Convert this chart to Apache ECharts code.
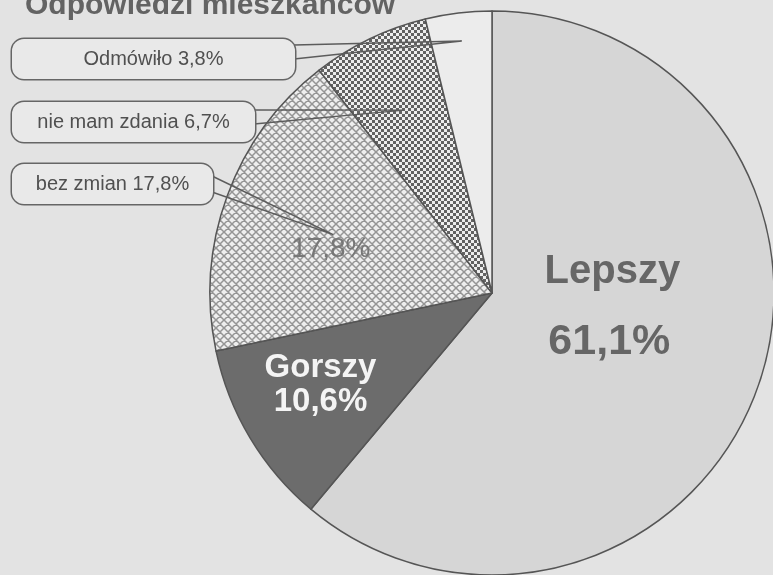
<!DOCTYPE html>
<html><head><meta charset="utf-8">
<script src="https://cdn.jsdelivr.net/npm/echarts@6/dist/echarts.min.js"></script>
<style>html,body{margin:0;padding:0;background:#e3e3e3}#c{width:773px;height:575px}</style>
</head><body><div id="c"></div>
<script>
// ---- data ----
const titleText = 'Odpowiedzi mieszkańców';
const categories = ['Lepszy', 'Gorszy', 'bez zmian', 'nie mam zdania', 'Odmówiło'];
const values = [61.1, 10.6, 17.8, 6.7, 3.8];

// ---- helpers ----
function fmt(v) { return v.toFixed(1).replace('.', ',') + '%'; }
function makeCross() {
  const s = 8, c = document.createElement('canvas'); c.width = c.height = s;
  const g = c.getContext('2d');
  g.fillStyle = '#eeeeee'; g.fillRect(0, 0, s, s);
  g.strokeStyle = '#959595'; g.lineWidth = 1.5; g.beginPath();
  for (let k = -1; k <= 1; k++) {
    g.moveTo(k * s, 0); g.lineTo(k * s + s, s);
    g.moveTo(k * s + s, 0); g.lineTo(k * s, s);
  }
  g.stroke(); return c;
}
function makeChecker() {
  const s = 6, c = document.createElement('canvas'); c.width = c.height = s;
  const g = c.getContext('2d');
  g.fillStyle = '#eeeeee'; g.fillRect(0, 0, s, s);
  g.fillStyle = '#626262'; g.fillRect(0, 0, 3, 3); g.fillRect(3, 3, 3, 3);
  return c;
}

// ---- styles ----
const center = [492, 293], radius = 282;
const fills = ['#d6d6d6', '#6c6c6c', { image: makeCross(), repeat: 'repeat' }, { image: makeChecker(), repeat: 'repeat' }, '#ececec'];
const fontFam = '"Liberation Sans", Arial, sans-serif';
const innerLabels = [
  { show: true, offset: [-18, -35], formatter: p => '{n|' + p.name + '}\n{v|' + fmt(p.value) + '}',
    rich: { n: { fontSize: 40, fontWeight: 'bold', color: '#666', lineHeight: 70, fontFamily: fontFam, padding: [0, 0, 0, 6] },
            v: { fontSize: 43, fontWeight: 'bold', color: '#666', lineHeight: 70, fontFamily: fontFam } } },
  { show: true, offset: [-48, 18], formatter: p => '{n|' + p.name + '}\n{v|' + fmt(p.value) + '}',
    rich: { n: { fontSize: 33, fontWeight: 'bold', color: '#f4f4f4', lineHeight: 34, fontFamily: fontFam },
            v: { fontSize: 33, fontWeight: 'bold', color: '#f4f4f4', lineHeight: 34, fontFamily: fontFam } } },
  { show: true, offset: [-26, 6], formatter: p => fmt(p.value), fontSize: 28, color: '#777', fontFamily: fontFam },
  { show: false }, { show: false }
];
// callout boxes: left x, center y, width, tail top/bottom y offsets, radial fraction of pointer
const callouts = {
  2: { x: 12, y: 184, w: 201, t1: -8, t2: 8, f: 0.60 },
  3: { x: 12, y: 122, w: 243, t1: -12, t2: 2, f: 0.72 },
  4: { x: 12, y: 59, w: 283, t1: -14, t2: 0, f: 0.90 }
};

const chart = echarts.init(document.getElementById('c'), null, { renderer: 'canvas' });

const mainData = categories.map((n, i) => ({
  name: n, value: values[i], itemStyle: { color: fills[i] }, label: innerLabels[i]
}));
const calloutData = categories.map((n, i) => {
  const c = callouts[i];
  return {
    name: n, value: values[i],
    label: c ? { show: true, position: 'outside', width: c.w } : { show: false },
    labelLine: { show: !!c }
  };
});

chart.setOption({
  backgroundColor: '#e3e3e3',
  animation: false,
  title: {
    text: titleText, left: 25, top: -9, padding: 0,
    textStyle: { fontSize: 30, fontWeight: 'bold', color: '#636363', fontFamily: fontFam, lineHeight: 30 }
  },
  series: [
    {
      type: 'pie', center: center, radius: radius, startAngle: 90, clockwise: true,
      silent: true, avoidLabelOverlap: false, emphasis: { disabled: true },
      itemStyle: { borderColor: '#555', borderWidth: 1.5 },
      label: { position: 'inside' }, labelLine: { show: false },
      data: mainData
    },
    {
      type: 'pie', center: center, radius: radius, startAngle: 90, clockwise: true,
      silent: true, avoidLabelOverlap: false, emphasis: { disabled: true }, z: 5,
      itemStyle: { color: 'rgba(0,0,0,0)', borderWidth: 0 },
      label: {
        formatter: p => p.name + ' ' + fmt(p.value),
        fontSize: 20, color: '#505050', fontFamily: fontFam, lineHeight: 22,
        backgroundColor: '#e9e9e9', borderColor: '#666', borderWidth: 1.5, borderRadius: 12,
        padding: [9, 0], align: 'center'
      },
      labelLine: { length: 10, length2: 10, lineStyle: { color: '#5c5c5c', width: 1.4 } },
      labelLayout: function (p) {
        const c = callouts[p.dataIndex];
        if (!c) return {};
        const lay = chart.getModel().getSeriesByIndex(1).getData().getItemLayout(p.dataIndex);
        const mid = (lay.startAngle + lay.endAngle) / 2;
        const tx = lay.cx + lay.r * c.f * Math.cos(mid);
        const ty = lay.cy + lay.r * c.f * Math.sin(mid);
        const bx = c.x + c.w - 1;
        return {
          x: c.x + c.w / 2, y: c.y, align: 'center', verticalAlign: 'middle',
          labelLinePoints: [[bx, c.y + c.t1], [tx, ty], [bx, c.y + c.t2]]
        };
      },
      data: calloutData
    }
  ]
});
</script>
</body></html>
